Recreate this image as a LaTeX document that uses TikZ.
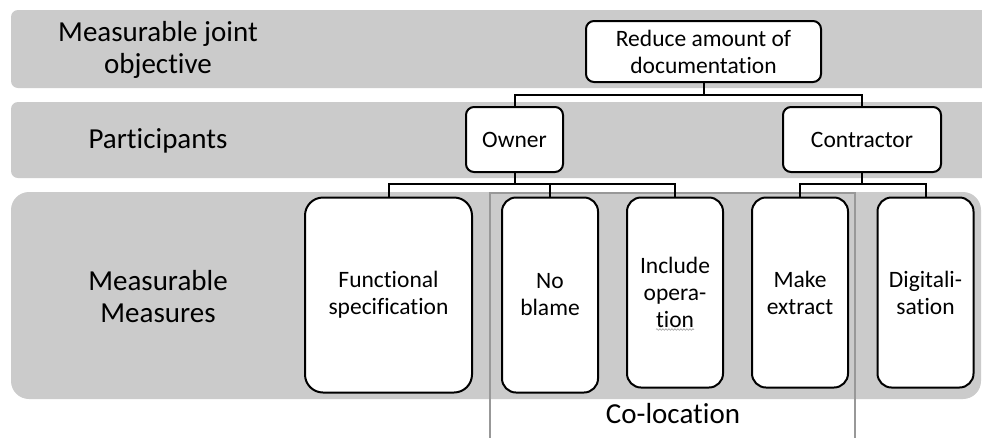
\documentclass[tikz,border=0pt]{standalone}
\usepackage{fontspec}
\setmainfont{Carlito}[Ligatures={NoCommon,NoRare,NoContextual,NoRequired}]
\usetikzlibrary{calc,decorations.pathmorphing}
\definecolor{bandgray}{RGB}{203,203,203}
\definecolor{framegray}{RGB}{152,152,152}
\begin{document}
\begin{tikzpicture}[x=1pt,y=-1pt,
  band/.style={fill=bandgray,draw=none},
  box/.style={draw=black,fill=white,line width=2pt,rounded corners=8pt,
    align=center,inner sep=0pt,font=\fontsize{23.5}{27}\selectfont},
  tallbox/.style={box,rounded corners=14pt,minimum width=96pt},
  rowlabel/.style={align=center,inner sep=0pt,font=\fontsize{29}{32}\selectfont},
  conn/.style={line width=2pt,black},
]
\useasboundingbox (0,0) rectangle (982,437);
\clip (0,0) rectangle (982,437);

% level bands
\fill[band,rounded corners=7pt] (11,10) rectangle (1000,88);
\fill[band,rounded corners=7pt] (11,102) rectangle (1000,178);
\fill[band,rounded corners=18pt] (11,192) rectangle (981,399);

% level names
\node[rowlabel] (lvl1) at (158,50) {Measurable joint\\objective};
\node[rowlabel] (lvl2) at (158,141) {Participants};
\node[rowlabel] (lvl3) at (158,297) {Measurable\\Measures};

% co-location frame
\draw[framegray,line width=2pt] (490,440) -- (490,192.5) -- (855,192.5) -- (855,440);
\node[rowlabel] (coloc) at (673,414) {Co-location};

% objective
\node[box,minimum width=235pt,minimum height=61pt] (goal) at (703.5,51.5)
  {Reduce amount of\\documentation};

% participants
\node[box,minimum width=97pt,minimum height=65pt] (owner) at (514.5,139.5) {Owner};
\node[box,minimum width=158pt,minimum height=65pt] (contractor) at (862,139.5) {Contractor};

% measures
\node[tallbox,minimum width=167pt,minimum height=195pt,rounded corners=18pt] (func) at (388.5,295)
  {Functional\\specification};
\node[tallbox,minimum height=195pt] (noblame) at (550,295) {No\\blame};
\node[tallbox,minimum height=190pt] (include) at (675,292.5) {Include\\opera-\\tion};
\node[tallbox,minimum height=190pt] (extract) at (800,292.5) {Make\\extract};
\node[tallbox,minimum height=190pt] (digit) at (925.5,292.5) {Digitali-\\sation};

% spelling squiggle under "tion"
\draw[framegray,line width=0.6pt,decorate,decoration={snake,amplitude=0.8pt,segment length=3pt}]
  ($(include.center)+(-19,37)$) -- ($(include.center)+(19,37)$);

% tree connectors
\coordinate (j1) at (703.5,95);
\coordinate (j2) at (514.5,184);
\coordinate (j3) at (862,184);
\draw[conn] (goal.south) -- (j1);
\draw[conn] (owner.north) |- (j1) -| (contractor.north);
\draw[conn] (owner.south) -- (j2);
\draw[conn] (func.north) |- (j2) -| (include.north);
\draw[conn] (noblame.north) -- (noblame.north |- j2);
\draw[conn] (contractor.south) -- (j3);
\draw[conn] (extract.north) |- (j3) -| (digit.north);
\end{tikzpicture}
\end{document}
